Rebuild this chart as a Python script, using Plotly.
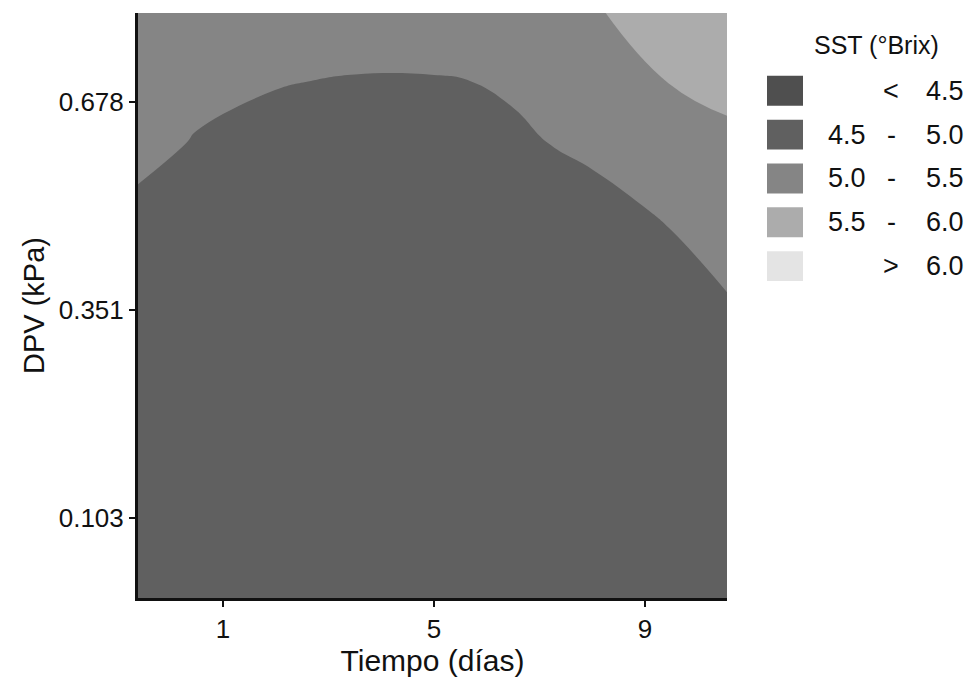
import plotly.graph_objects as go

# ---- data ----
dias = [-0.7, 0.5, 2.0, 3.5, 5.0, 6.5, 8.0, 9.5, 10.7]          # Tiempo (días)
dpv_pos = [-0.45, 0.5, 1.0, 1.5, 1.8, 2.1, 2.5]                  # DPV axis position
dpv_tick_pos = [0, 1, 2]
dpv_tick_text = ["0.103", "0.351", "0.678"]
dias_ticks = [1, 5, 9]

sst = [
    [4.70, 4.62, 4.56, 4.53, 4.53, 4.55, 4.60, 4.66, 4.70],
    [4.72, 4.65, 4.58, 4.55, 4.55, 4.58, 4.64, 4.72, 4.80],
    [4.80, 4.72, 4.64, 4.61, 4.61, 4.66, 4.74, 4.87, 4.98],
    [4.96, 4.85, 4.76, 4.72, 4.72, 4.79, 4.93, 5.04, 5.22],
    [5.10, 4.98, 4.88, 4.84, 4.85, 4.96, 5.05, 5.25, 5.42],
    [5.22, 5.08, 5.02, 4.975, 4.975, 5.03, 5.25, 5.52, 5.62],
    [5.34, 5.26, 5.24, 5.30, 5.33, 5.36, 5.49, 5.78, 5.88],
]

sst_breaks = [4.5, 5.0, 5.5, 6.0]
fill_colors = ["#4f4f4f", "#606060", "#858585", "#acacac", "#e4e4e4"]

# ---- figure ----
FONT = "Liberation Sans, Arial, sans-serif"
W, H = 972, 681
L, R, T, B = 138, 245, 13, 81
pw, ph = W - L - R, H - T - B

n = len(fill_colors)
cscale = []
for i, c in enumerate(fill_colors):
    lo = 0 if i == 0 else (i - 0.5) / (n - 1)
    hi = 1 if i == n - 1 else (i + 0.5) / (n - 1)
    cscale += [[lo, c], [hi, c]]

fig = go.Figure()
fig.add_trace(go.Contour(
    x=dias, y=dpv_pos, z=sst,
    contours=dict(start=sst_breaks[0], end=sst_breaks[-1],
                  size=sst_breaks[1] - sst_breaks[0],
                  coloring="fill", showlines=False),
    colorscale=cscale, showscale=False,
    line=dict(width=0, smoothing=1.3),
    hoverinfo="skip",
))


def px_x(px):
    return (px - L) / pw


def px_y(py):
    return (T + ph - py) / ph


shapes = []
annotations = []
annotations.append(dict(text="SST (°Brix)", x=px_x(876), y=px_y(45), xref="paper", yref="paper",
                        showarrow=False, font=dict(family=FONT, size=25, color="#111"),
                        xanchor="center", yanchor="middle"))

lows = [""] + [f"{b:.1f}" for b in sst_breaks[:-1]] + [""]
highs = [f"{b:.1f}" for b in sst_breaks] + [f"{sst_breaks[-1]:.1f}"]
mids = ["<"] + ["-"] * (len(sst_breaks) - 1) + [">"]

for i, c in enumerate(fill_colors):
    yc = 91 + 44 * i
    shapes.append(dict(type="rect", xref="paper", yref="paper",
                       x0=px_x(767), x1=px_x(803), y0=px_y(yc - 15), y1=px_y(yc + 15),
                       fillcolor=c, line=dict(width=0)))
    if lows[i]:
        annotations.append(dict(text=lows[i], x=px_x(868), y=px_y(yc), xref="paper", yref="paper",
                                showarrow=False, xanchor="right", yanchor="middle",
                                font=dict(family=FONT, size=27, color="#111")))
    annotations.append(dict(text=mids[i], x=px_x(891), y=px_y(yc), xref="paper", yref="paper",
                            showarrow=False, xanchor="center", yanchor="middle",
                            font=dict(family=FONT, size=27, color="#111")))
    annotations.append(dict(text=highs[i], x=px_x(966), y=px_y(yc), xref="paper", yref="paper",
                            showarrow=False, xanchor="right", yanchor="middle",
                            font=dict(family=FONT, size=27, color="#111")))

fig.update_layout(
    width=W, height=H,
    margin=dict(l=L, r=R, t=T, b=B, pad=0),
    paper_bgcolor="white", plot_bgcolor="white",
    shapes=shapes, annotations=annotations,
    showlegend=False,
    xaxis=dict(range=[-0.611, 10.555], tickvals=dias_ticks, ticks="outside", ticklen=6,
               tickwidth=1.5, tickcolor="#111", showline=True, linewidth=3, linecolor="#111",
               showgrid=False, zeroline=False,
               tickfont=dict(family=FONT, size=26, color="#111"),
               title=dict(text="Tiempo (días)", font=dict(family=FONT, size=30, color="#111"),
                          standoff=4)),
    yaxis=dict(range=[-0.383, 2.426], tickvals=dpv_tick_pos, ticktext=dpv_tick_text,
               ticks="outside", ticklen=6, tickwidth=1.5, tickcolor="#111",
               showline=True, linewidth=3, linecolor="#111",
               showgrid=False, zeroline=False,
               tickfont=dict(family=FONT, size=26, color="#111"),
               title=dict(text="DPV (kPa)", font=dict(family=FONT, size=29, color="#111"),
                          standoff=6)),
)

fig.write_html("out.html")
